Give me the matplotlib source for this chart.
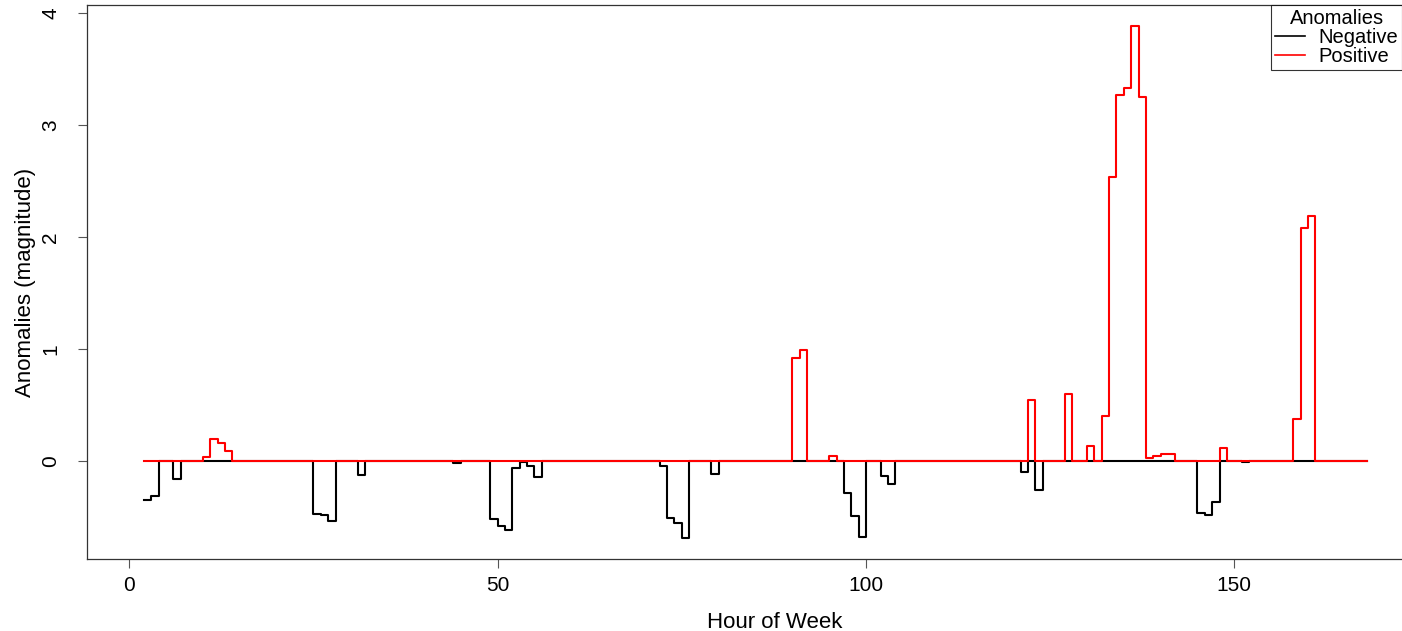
import numpy as np
import matplotlib
matplotlib.use('Agg')
import matplotlib.pyplot as plt

plt.rcParams['font.family'] = ['Liberation Sans', 'DejaVu Sans']

# hours of the week shown on the x axis
hours = np.arange(2, 169)

# non-zero negative anomalies (hour, magnitude)
neg_hours = [2, 3, 6, 25, 26, 27, 31, 44, 49, 50, 51, 52, 53, 54, 55,
             72, 73, 74, 75, 79, 97, 98, 99, 102, 103, 121, 123,
             145, 146, 147, 151]
neg_values = [-0.35, -0.31, -0.16, -0.47, -0.48, -0.53, -0.12, -0.015,
              -0.52, -0.575, -0.615, -0.06, -0.005, -0.04, -0.14,
              -0.04, -0.51, -0.55, -0.69, -0.11, -0.28, -0.49, -0.68,
              -0.13, -0.20, -0.10, -0.26,
              -0.46, -0.48, -0.36, -0.01]

# non-zero positive anomalies (hour, magnitude)
pos_hours = [10, 11, 12, 13, 90, 91, 95, 122, 127, 130, 132, 133, 134,
             135, 136, 137, 138, 139, 140, 141, 148, 158, 159, 160]
pos_values = [0.04, 0.20, 0.16, 0.09, 0.92, 0.99, 0.05, 0.55, 0.60, 0.14,
              0.40, 2.54, 3.27, 3.33, 3.89, 3.25, 0.03, 0.045, 0.06, 0.06,
              0.12, 0.38, 2.08, 2.19]

negative = np.zeros(len(hours))
negative[np.array(neg_hours) - hours[0]] = neg_values
positive = np.zeros(len(hours))
positive[np.array(pos_hours) - hours[0]] = pos_values

W, H = 1402, 631
fig = plt.figure(figsize=(W / 100, H / 100), dpi=100)
# plot region runs past the right edge of the picture (as in the original)
ax = fig.add_axes([87.3 / W, 72 / H, (1462.7 - 87.3) / W, 554 / H])

ax.plot(hours, negative, drawstyle='steps-post', color='black', lw=1.5,
        label='Negative')
ax.plot(hours, positive, drawstyle='steps-post', color='red', lw=1.5,
        label='Positive')

ax.set_xlim(-5.7, 181)
ax.margins(y=0.04)
ax.set_xticks([0, 50, 100, 150])
ax.set_yticks([0, 1, 2, 3, 4])

for s in ax.spines.values():
    s.set_linewidth(0.9)
    s.set_color('#333333')

ax.tick_params(axis='both', length=6.5, width=0.8, color='#555555',
               labelsize=15)
ax.tick_params(axis='x', pad=6)
ax.tick_params(axis='y', labelrotation=90, pad=13)
plt.setp(ax.get_yticklabels(), va='center')

ax.set_xlabel('Hour of Week', fontsize=16, labelpad=12)
ax.set_ylabel('Anomalies (magnitude)', fontsize=16, labelpad=4)

leg = ax.legend(title='Anomalies', loc='upper left',
                bbox_to_anchor=(1271 / W, 1 - 5 / H),
                bbox_transform=fig.transFigure,
                borderaxespad=0, fontsize=14.5, title_fontsize=14.5,
                frameon=True, fancybox=False, edgecolor='black',
                labelspacing=0.0, handlelength=1.5, handletextpad=0.65,
                borderpad=0.2)
leg.get_frame().set_linewidth(0.8)
for line in leg.get_lines():
    line.set_linewidth(1.2)

fig.savefig('out.png', dpi=100)
